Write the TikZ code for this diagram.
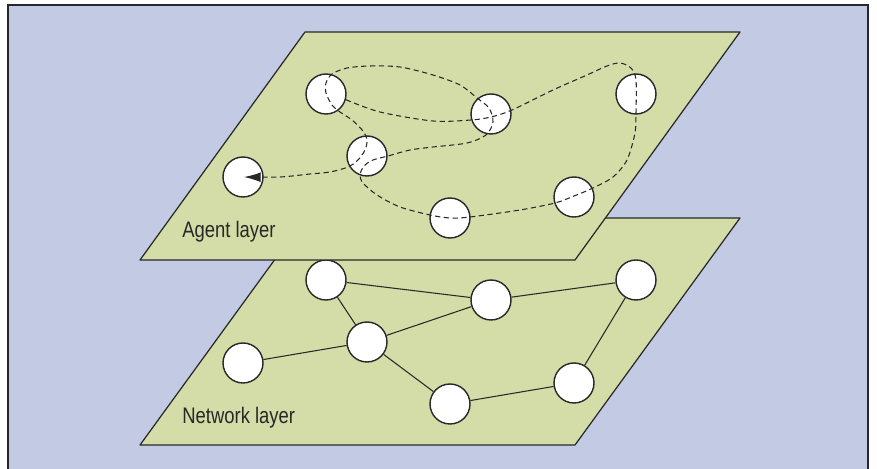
\documentclass[tikz,border=0pt]{standalone}
\usepackage{fontspec}
\setmainfont{Liberation Sans}
\usetikzlibrary{arrows.meta}

\definecolor{sky}{RGB}{194,203,227}
\definecolor{leaf}{RGB}{212,220,168}
\definecolor{ink}{RGB}{40,40,40}

\tikzset{
  host/.style={circle,draw=ink,fill=white,line width=0.8pt,minimum size=0.8cm,inner sep=0pt},
  plane/.style={draw=ink,fill=leaf,line width=0.7pt,line join=round},
  link/.style={draw=ink,line width=0.6pt},
  trail/.style={ink,line width=0.6pt,dash pattern=on 3pt off 2pt},
  layername/.style={anchor=base west,inner sep=0pt,text=ink,font=\fontsize{12.8}{15}\selectfont}
}

\begin{document}
\begin{tikzpicture}[x=0.02cm,y=-0.02cm]
  \useasboundingbox (0,0) rectangle (877,469);
  \fill[sky] (8,5) rectangle (868,469);
  \draw[ink,line width=0.8pt] (8,469)--(8,5)--(868,5)--(868,469);

  % network layer first, the agent layer lies over it
  \draw[plane] (305,218)--(740,218)--(575,445)--(140,445)--cycle;
  \node[layername] (netname) at (182,424) {\scalebox{0.82}[1]{Network layer}};
  \foreach \n/\x/\y in {1/326/94, 2/491/114, 3/367/156, 4/243/177, 5/450/218, 6/636/94, 7/574/197}
    \node[host] (n\n) at (\x,\y+186) {};
  \foreach \p/\q in {1/2, 1/3, 3/2, 2/6, 4/3, 3/5, 5/7, 7/6}
    \draw[link] (n\p)--(n\q);

  % agent layer
  \draw[plane] (305,32)--(740,32)--(575,260)--(140,260)--cycle;
  \node[layername] (agentname) at (182,238) {\scalebox{0.82}[1]{Agent layer}};
  \foreach \n/\x/\y in {1/326/94, 2/491/114, 3/367/156, 4/243/177, 5/450/218, 6/636/94, 7/574/197}
    \node[host] (a\n) at (\x,\y) {};

  % route of the mobile agent
  \draw[trail,-{Latex[length=9.5pt,width=5.5pt]}] plot[smooth,tension=0.5] coordinates {
    (a1.-16) (380,112) (433,121) (471,120) (491,117) (512,110) (553,90) (587,75)
    (607,66) (620,63) (631,68) (636,80) (636,113) (635,133) (627,160) (613,177)
    (593,188) (574,196) (555,203) (520,210) (470,217) (450,218) (430,215) (400,207)
    (377,195) (363,183) (360,175) (364,166) (373,160) (388,156) (410,150) (433,147)
    (467,143) (486,135) (493,122) (489,108) (477,98) (460,85) (433,75) (400,67)
    (370,66) (347,68) (332,74) (326,83) (326,93) (332,105) (340,112) (352,120)
    (363,131) (367,140) (365,150) (358,160) (348,167) (330,172) (310,174) (280,177)
    (244,177)};
\end{tikzpicture}
\end{document}
